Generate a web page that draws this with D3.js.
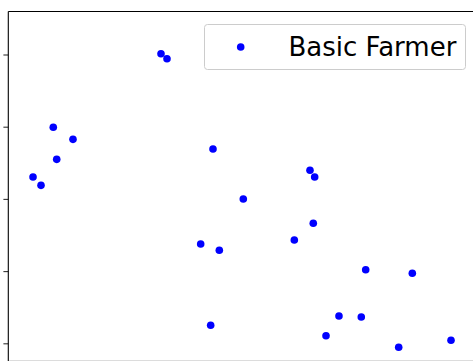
<!DOCTYPE html>
<html>
<head>
<meta charset="utf-8">
<script src="https://cdn.jsdelivr.net/npm/d3@7"></script>
<style>
  html, body { margin: 0; padding: 0; background: #fff; }
  svg { display: block; }
</style>
</head>
<body>
<svg id="chart" width="473" height="361"></svg>
<script>
// Basic Farmer observations
const seriesName = "Basic Farmer";
const xValues = [32.86, 34.15, 9.68, 13.92, 10.42, 5.32, 7.04, 44.05, 50.57, 41.40, 45.41, 61.55,
                 65.63, 64.92, 65.93, 43.55, 76.91, 86.94, 71.16, 75.96, 68.37, 84.01, 95.27];
const yValues = [4.011, 3.942, 2.992, 2.825, 2.548, 2.303, 2.188, 2.691, 1.999, 1.375, 1.288, 1.431,
                 1.662, 2.396, 2.303, 0.249, 1.019, 0.970, 0.378, 0.364, 0.105, -0.055, 0.042];
const yTicks = [0, 1, 2, 3, 4];

const svg = d3.select("#chart");
const W = 473, H = 361;
const plotLeft = 8.3, plotTop = 11.5;

const x = d3.scaleLinear().domain([0, 100]).range([plotLeft, plotLeft + 464.7]);
const y = d3.scaleLinear().domain([0, 4]).range([343.3, 54.5]);

// y axis ticks (labels fall outside the visible area)
const yAxis = d3.axisLeft(y).tickValues(yTicks).tickSize(4.9).tickFormat("");
const gy = svg.append("g").attr("transform", `translate(${plotLeft},0)`).call(yAxis);
gy.select(".domain").remove();
gy.selectAll(".tick line").attr("stroke", "#333").attr("stroke-width", 1.1);

// spines
svg.append("line").attr("x1", plotLeft).attr("x2", plotLeft).attr("y1", plotTop).attr("y2", H)
  .attr("stroke", "#000").attr("stroke-width", 1.1);
svg.append("line").attr("x1", plotLeft).attr("x2", W).attr("y1", plotTop).attr("y2", plotTop)
  .attr("stroke", "#000").attr("stroke-width", 1.1);
svg.append("line").attr("x1", plotLeft + 1).attr("x2", W).attr("y1", 360.5).attr("y2", 360.5)
  .attr("stroke", "#dcdcdc").attr("stroke-width", 1);

// points
const data = xValues.map((v, i) => ({ x: v, y: yValues[i] }));
svg.append("g").selectAll("circle").data(data).join("circle")
  .attr("cx", d => x(d.x))
  .attr("cy", d => y(d.y))
  .attr("r", 3.8)
  .attr("fill", "#0000ff");

// legend
const lg = svg.append("g");
lg.append("rect").attr("x", 204.5).attr("y", 24.5).attr("width", 261).attr("height", 45)
  .attr("rx", 3).attr("fill", "#fff").attr("fill-opacity", 0.8)
  .attr("stroke", "#cccccc").attr("stroke-width", 1);
lg.append("circle").attr("cx", 240.7).attr("cy", 47).attr("r", 3.8).attr("fill", "#0000ff");
lg.append("text").attr("x", 288.5).attr("y", 55.7)
  .attr("font-family", "DejaVu Sans, sans-serif").attr("font-size", 26)
  .attr("fill", "#000").text(seriesName);
</script>
</body>
</html>
